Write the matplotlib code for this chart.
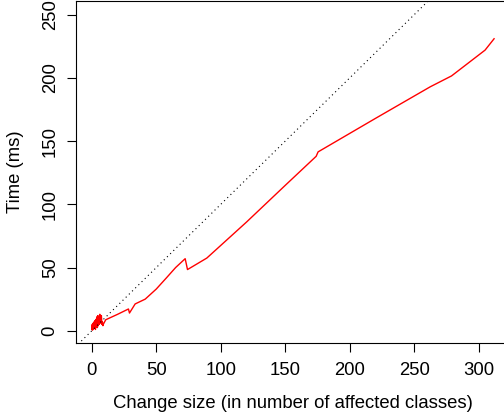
import matplotlib.pyplot as plt

plt.rcParams['font.family'] = ['Liberation Sans', 'DejaVu Sans']

# change size (affected classes) vs time (ms)
noise_x = [0, 0.3, 0.6, 1.0, 1.3, 1.7, 2.0, 2.4, 2.8, 3.1, 3.5, 3.9, 4.3, 4.7,
           5.0, 5.4, 5.8, 6.2, 6.6, 7.0, 7.4, 7.8, 8.2, 8.6]
noise_y = [1, 5, 0.5, 6, 1.5, 7, 2, 8, 1, 9, 3, 11, 2.5, 12, 4, 10, 5, 13, 6,
           9, 12, 5, 7, 4]
size_x = [9.0, 10.8, 20.0, 28.4, 29.2, 33.6, 41.4, 50, 58, 65, 72.4, 74.2,
          89.2, 120, 150, 174, 175.5, 220, 262.5, 279, 305, 312]
time_y = [5.3, 8.7, 13.0, 17.2, 14.0, 21.2, 25.0, 33, 42, 50, 57.0, 48.4,
          57.5, 86, 115, 138, 141.5, 168, 193, 201.6, 222, 231]

x = noise_x + size_x
y = noise_y + time_y

fig = plt.figure(figsize=(5.04, 4.19), dpi=100)
ax = fig.add_axes([0.151, 0.182, 0.86, 0.816])

ax.plot(x, y, color='red', lw=1)
ax.plot([-50, 400], [-50, 400], color='black', lw=0.8, ls=(0, (1, 3)))

ax.set_xlim(-12.2, 324)
ax.set_ylim(-9.5, 261)
ax.set_xticks([0, 50, 100, 150, 200, 250, 300])
ax.set_yticks([0, 50, 100, 150, 200, 250])
ax.tick_params(direction='out', length=6.5, width=0.8, labelsize=13.3)
ax.tick_params(axis='x', pad=7.5)
ax.tick_params(axis='y', pad=6)
for lab in ax.get_yticklabels():
    lab.set_rotation(90)
    lab.set_va('center')
ax.set_xlabel('Change size (in number of affected classes)', fontsize=13.3, labelpad=11.5)
ax.set_ylabel('Time (ms)', fontsize=13.3, labelpad=12.5)
for s in ax.spines.values():
    s.set_linewidth(0.8)

fig.savefig('out.png', dpi=100)
